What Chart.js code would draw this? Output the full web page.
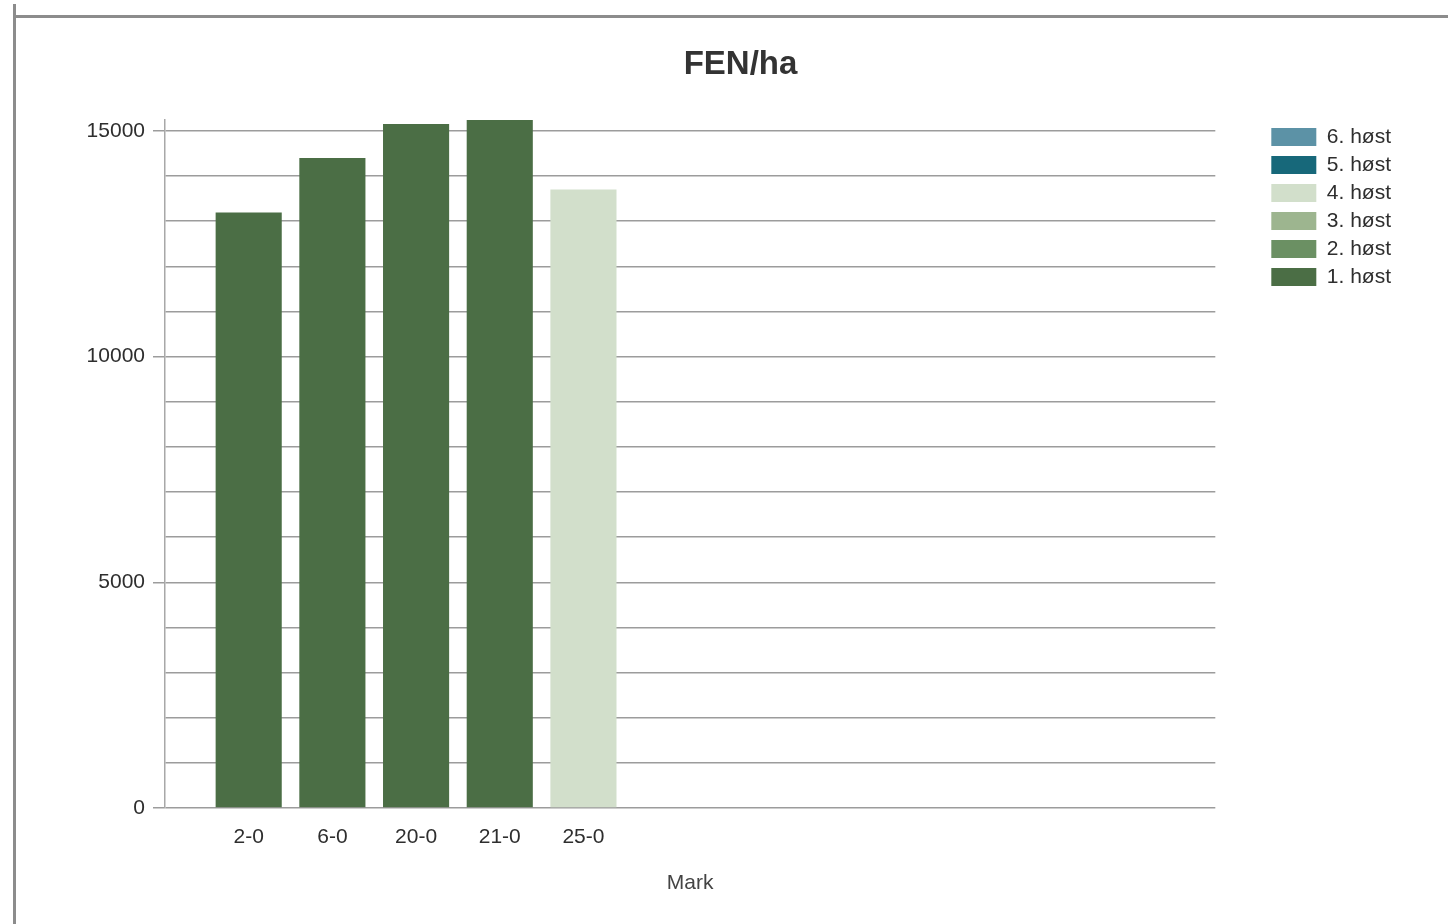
<!DOCTYPE html>
<html><head><meta charset="utf-8">
<script src="https://cdn.jsdelivr.net/npm/chart.js@4.4.1/dist/chart.umd.min.js"></script>
<style>
html,body{margin:0;padding:0;background:#fff;}
#wrap{position:relative;width:1448px;height:924px;overflow:hidden;background:#fff;}
#frameL{position:absolute;left:13px;top:4px;width:3px;height:920px;background:#8c8c8c;}
#frameT{position:absolute;left:13px;top:15px;width:1435px;height:3px;background:#8c8c8c;}
canvas{position:absolute;left:0;top:0;}
</style></head><body>
<div id="wrap"><canvas id="c" width="1448" height="924"></canvas><div id="frameL"></div><div id="frameT"></div></div>
<script>
// ---- data ----
const categories = ['2-0', '6-0', '20-0', '21-0', '25-0'];
const seriesNames = ['1. høst', '2. høst', '3. høst', '4. høst', '5. høst', '6. høst'];
const host1 = [13190, 14400, 15150, 15240, 0];
const host2 = [0, 0, 0, 0, 0];
const host3 = [0, 0, 0, 0, 0];
const host4 = [0, 0, 0, 0, 13700];
const host5 = [0, 0, 0, 0, 0];
const host6 = [0, 0, 0, 0, 0];
const yTickLabels = [0, 5000, 10000, 15000];
const yGridStep = 1000;
const seriesColors = ['#4b6e45', '#6b9063', '#9db58f', '#d2dfcb', '#17687a', '#5c92a6'];
const yMax = 15250;
const xMax = 12.55;

const FONT = 'Liberation Sans, Arial, Helvetica, sans-serif';
const allSeries = [host1, host2, host3, host4, host5, host6];

const datasets = allSeries.map((arr, k) => ({
  label: seriesNames[k],
  data: arr.map((v, i) => ({ x: i + 1, y: v })),
  backgroundColor: seriesColors[k],
  borderWidth: 0,
  barPercentage: 0.79,
  categoryPercentage: 1
}));

const GRID = '#9c9c9c';
new Chart(document.getElementById('c'), {
  type: 'bar',
  data: { datasets },
  options: {
    responsive: false,
    animation: false,
    devicePixelRatio: 1,
    layout: { padding: { top: 16, left: 80, right: 47, bottom: 0 } },
    plugins: {
      title: {
        display: true, text: 'FEN/ha', color: '#333',
        font: { family: FONT, size: 33, weight: 'bold' },
        padding: { top: 29, bottom: 35 }
      },
      legend: {
        position: 'right', align: 'start', reverse: true, fullSize: false,
        labels: {
          boxWidth: 45, boxHeight: 18, padding: 7, color: '#2e2e2e',
          font: { family: FONT, size: 21 }
        }
      },
      tooltip: { enabled: false }
    },
    scales: {
      x: {
        type: 'linear', stacked: true, min: 0, max: xMax, offset: false,
        afterFit(s) { s.height = 116; },
        grid: { display: false, drawTicks: false },
        border: { display: false },
        ticks: {
          stepSize: 1, includeBounds: false, autoSkip: false, maxRotation: 0,
          padding: 17, color: '#2e2e2e', font: { family: FONT, size: 21 },
          callback: (v) => (Number.isInteger(v) && v >= 1 && v <= categories.length) ? categories[v - 1] : ''
        },
        title: {
          display: true, text: 'Mark', color: '#444',
          font: { family: FONT, size: 21 },
          padding: { top: 0, bottom: 28 }
        }
      },
      y: {
        stacked: true, min: 0, max: yMax,
        afterFit(s) { s.width = 85; },
        afterBuildTicks(s) {
          const t = [];
          for (let v = 0; v <= yTickLabels[yTickLabels.length - 1]; v += yGridStep) t.push({ value: v });
          s.ticks = t;
        },
        ticks: {
          autoSkip: false,
          padding: 8, color: '#2e2e2e', font: { family: FONT, size: 21 },
          callback: (v) => (yTickLabels.includes(v) ? String(v) : '')
        },
        grid: {
          color: GRID,
          lineWidth: 1.5,
          tickLength: 12,
          tickColor: (ctx) => (ctx.tick && yTickLabels.includes(ctx.tick.value) ? GRID : 'rgba(0,0,0,0)')
        },
        border: { display: true, color: '#a8a8a8', width: 1.5 }
      },
      pad: {
        type: 'linear', position: 'right', display: true,
        afterFit(s) { s.width = 49; },
        grid: { display: false, drawTicks: false },
        border: { display: false },
        ticks: { display: false }
      }
    }
  }
});
</script>
</body></html>
